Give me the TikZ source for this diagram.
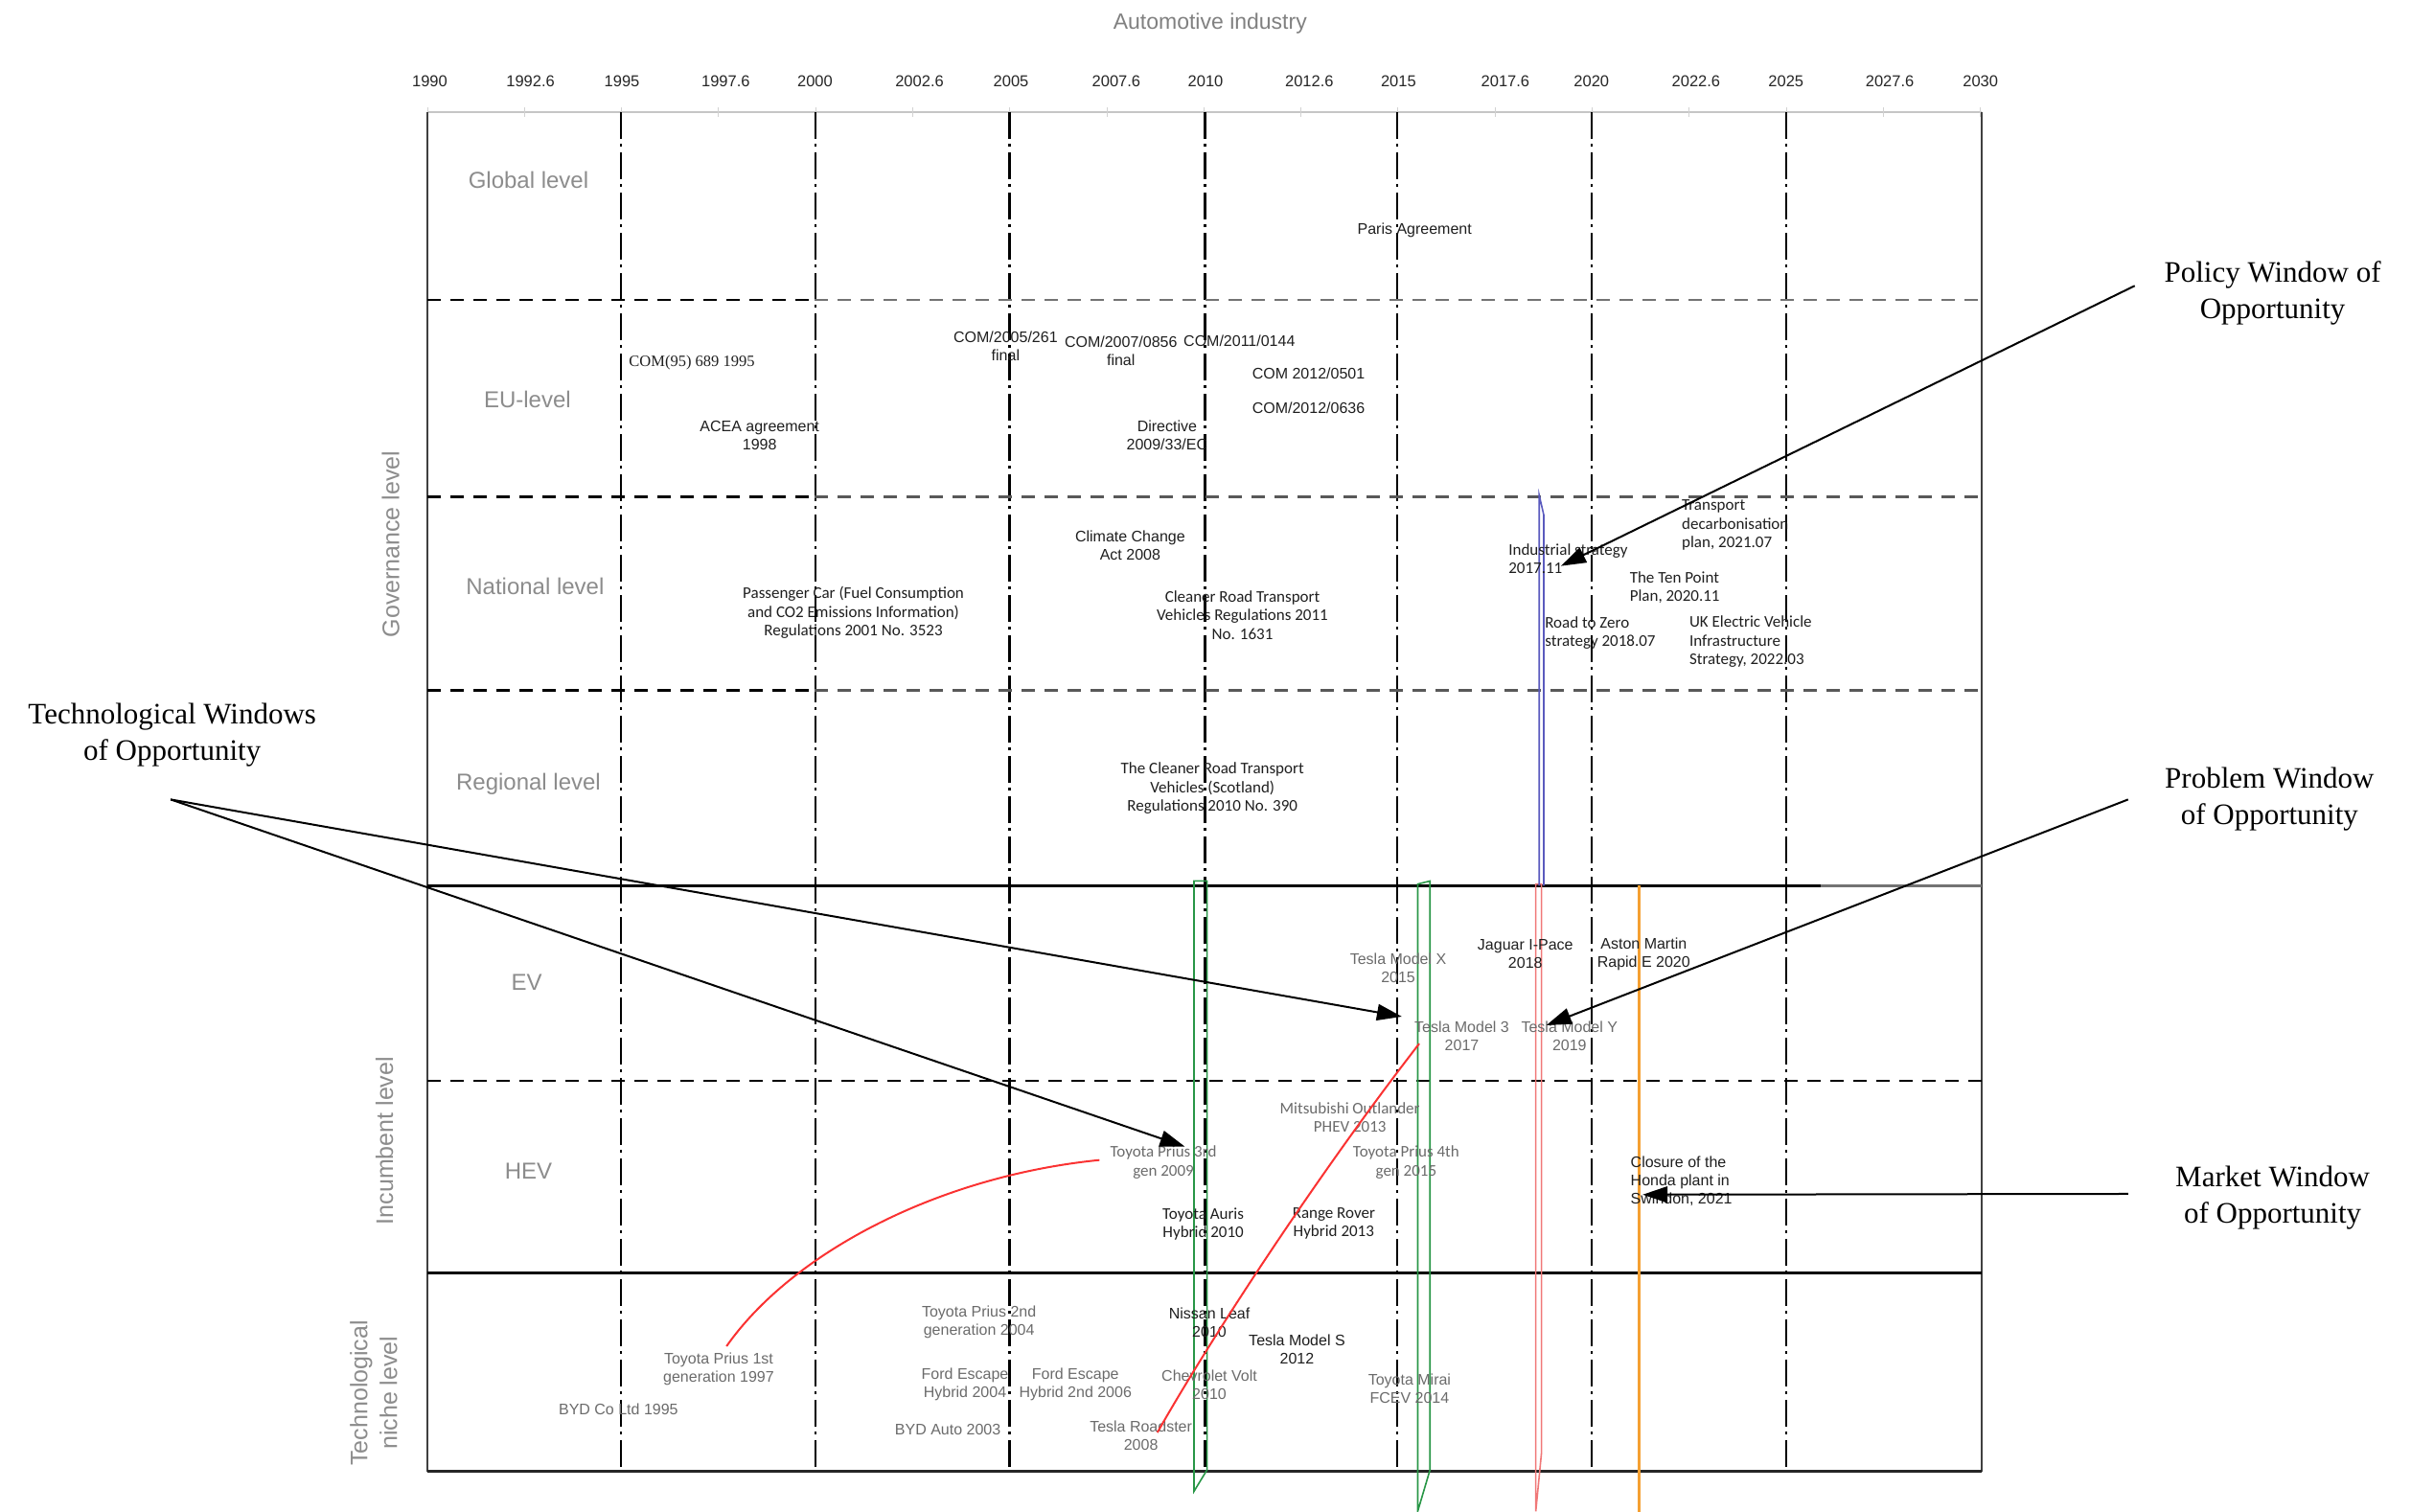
\documentclass[tikz,border=0pt]{standalone}
\usepackage{fontspec}
\setmainfont{Liberation Serif}
\newfontfamily\arialf{Liberation Sans}
\newfontfamily\calf{Carlito}
\newfontfamily\timesf{Liberation Serif}
\usetikzlibrary{arrows.meta}
\definecolor{wgreen}{RGB}{40,150,70}
\definecolor{wpink}{RGB}{240,120,120}
\definecolor{wblue}{RGB}{90,90,190}
\definecolor{worange}{RGB}{245,160,50}
\definecolor{cred}{RGB}{250,50,50}
\begin{document}
\begin{tikzpicture}[x=1.6046pt,y=-1.6046pt,
  evA/.style={font=\arialf\fontsize{16}{19}\selectfont, align=center, inner sep=0pt},
  evC/.style={font=\calf\fontsize{17}{19.5}\selectfont, align=center, inner sep=0pt},
  evT/.style={font=\timesf\fontsize{16.5}{19}\selectfont, inner sep=0pt},
  gtx/.style={text=black!58},
  dtx/.style={text=black!88},
  rowlab/.style={font=\arialf\fontsize{24}{28}\selectfont, text=black!45, inner sep=0pt},
  axlab/.style={font=\arialf\fontsize{25}{31}\selectfont, text=black!45, rotate=90, align=center, inner sep=0pt},
  ann/.style={font=\timesf\fontsize{31}{38}\selectfont, align=center, inner sep=0pt},
  yr/.style={font=\arialf\fontsize{16.5}{19}\selectfont, text=black!85, inner sep=0pt},
  vline/.style={line width=2.2pt, dash pattern=on 28pt off 5pt on 3pt off 6pt},
  hdash/.style={line width=2.5pt, dash pattern=on 14pt off 10pt},
  hthick/.style={line width=3pt},
  framel/.style={line width=1.8pt, black!75},
  arr/.style={line width=2pt, -{Triangle[length=26pt,width=17pt]}},
  win/.style={line width=1.6pt},
  redc/.style={line width=2pt, cred}
]
\useasboundingbox (0,0) rectangle (1568,983);

% ---------- title and year axis ----------
\node[font=\arialf\fontsize{23}{27}\selectfont, text=black!50, inner sep=0pt] (title) at (787,15) {Automotive industry};
\foreach \xx/\lab [count=\i] in {279.5/1990,345/1992.6,404.5/1995,472/1997.6,530/2000,598/2002.6,657.5/2005,726/2007.6,784/2010,851.5/2012.6,909.5/2015,979/2017.6,1035/2020,1103/2022.6,1161.5/2025,1229/2027.6,1288/2030}
  \node[yr] (yr\i) at (\xx,53) {\lab};
\draw[gray!45, line width=2pt] (278,73) -- (1289,73);
\foreach \k in {0,...,16}
  \draw[gray!35, line width=1pt] ({278+\k*63.125},70) -- ({278+\k*63.125},76);

% ---------- grid ----------
\foreach \xx in {404,530.5,656.5,783.7,908.5,1035,1161.5}
  \draw[vline] (\xx,73) -- (\xx,957);
\draw[framel] (278,73) -- (278,957);
\draw[framel] (1289,73) -- (1289,957);

\draw[hdash] (278,195) -- (530,195);
\draw[hdash, black!55] (530,195) -- (1289,195);
\draw[hdash] (278,323) -- (530,323);
\draw[hdash, black!65] (530,323) -- (1289,323);
\draw[hdash] (278,449) -- (530,449);
\draw[hdash, black!65] (530,449) -- (1289,449);
\draw[hthick] (278,576) -- (1184,576);
\draw[line width=2.5pt, black!55] (1184,576) -- (1289,576);
\draw[hdash] (278,703) -- (1289,703);
\draw[hthick] (278,828) -- (1289,828);
\draw[line width=2.5pt, black!85] (278,957) -- (1289,957);

% ---------- windows ----------
\draw[win, wgreen] (776.5,970) -- (776.5,573) -- (785,573) -- (785,956) -- cycle;
\draw[win, wgreen] (922,983) -- (922,575) -- (930,573) -- (930,956) -- cycle;
\draw[win, wpink] (998.8,983) -- (998.8,575) -- (1002.5,575) -- (1002.5,945) -- cycle;
\draw[win, wblue] (1001,576) -- (1001,322) -- (1004,335) -- (1004,576);
\draw[line width=3pt, worange] (1066,576) -- (1066,985);

% ---------- row labels ----------
\node[rowlab] (glob) at (343.7,117.4) {Global level};
\node[rowlab] (eu) at (343,259.7) {EU-level};
\node[rowlab] (nat) at (348,381.2) {National level};
\node[rowlab] (reg) at (343.7,510) {Regional level};
\node[rowlab] (ev) at (342.5,639.2) {EV};
\node[rowlab] (hev) at (343.7,761.4) {HEV};
\node[axlab] (gov) at (254,354) {Governance level};
\node[axlab] (inc) at (250,742) {Incumbent level};
\node[axlab] (niche) at (243,906) {Technological\\niche level};

% ---------- governance events ----------
\node[evA, dtx] (paris) at (920,150) {Paris Agreement};
\node[evT, dtx, anchor=west] (com95) at (409,236) {COM(95) 689 1995};
\node[evA, dtx] (acea) at (494,283) {ACEA agreement\\1998};
\node[evA, dtx] (com05) at (654,225) {COM/2005/261\\final};
\node[evA, dtx] (com07) at (729,228) {COM/2007/0856\\final};
\node[evA, dtx] (com11) at (806,222) {COM/2011/0144};
\node[evA, dtx] (com0501) at (851,243) {COM 2012/0501};
\node[evA, dtx] (com0636) at (851,265.5) {COM/2012/0636};
\node[evA, dtx] (directive) at (759,283) {Directive\\2009/33/EC};
\node[evA, dtx] (cca) at (735,355) {Climate Change\\Act 2008};
\node[evC, dtx] (pcar) at (555,398.4) {Passenger Car (Fuel Consumption\\and CO2 Emissions Information)\\Regulations 2001 No. 3523};
\node[evC, dtx] (crtv) at (808,400) {Cleaner Road Transport\\Vehicles Regulations 2011\\No. 1631};
\node[evC, dtx] (scot) at (788.5,512.8) {The Cleaner Road Transport\\Vehicles (Scotland)\\Regulations 2010 No. 390};
\node[evC, dtx, anchor=west, align=left] (indus) at (981,363.5) {Industrial strategy\\2017.11};
\node[evC, dtx, anchor=west, align=left] (tdp) at (1093.7,341.6) {Transport\\decarbonisation\\plan, 2021.07};
\node[evC, dtx, anchor=west, align=left] (tenp) at (1059.8,382) {The Ten Point\\Plan, 2020.11};
\node[evC, dtx, anchor=west, align=left] (rtz) at (1004.7,411.8) {Road to Zero\\strategy 2018.07};
\node[evC, dtx, anchor=west, align=left] (ukev) at (1098.6,417.5) {UK Electric Vehicle\\Infrastructure\\Strategy, 2022.03};

% ---------- incumbent events ----------
\node[evA, gtx] (tmx) at (909.3,629.7) {Tesla Model X\\2015};
\node[evA, dtx] (jag) at (992,620.4) {Jaguar I-Pace\\2018};
\node[evA, dtx] (aston) at (1069,620.4) {Aston Martin\\Rapid E 2020};
\node[evA, gtx] (tm3) at (950.7,673.8) {Tesla Model 3\\2017};
\node[evA, gtx] (tmy) at (1020.7,673.8) {Tesla Model Y\\2019};
\node[evC, gtx] (mitsu) at (877.9,726.9) {Mitsubishi Outlander\\PHEV 2013};
\node[evC, gtx] (prius3) at (756.6,756) {Toyota Prius 3rd\\gen 2009};
\node[evC, gtx] (prius4) at (914.5,755.9) {Toyota Prius 4th\\gen 2015};
\node[evA, dtx, anchor=west, align=left] (honda) at (1060.4,768.2) {Closure of the\\Honda plant in\\Swindon, 2021};
\node[evC, dtx] (auris) at (782.5,796) {Toyota Auris\\Hybrid 2010};
\node[evC, dtx] (rrover) at (867.4,795.8) {Range Rover\\Hybrid 2013};

% ---------- niche events ----------
\node[evA, gtx] (prius2) at (636.7,860) {Toyota Prius 2nd\\generation 2004};
\node[evA, dtx] (leaf) at (786.5,860) {Nissan Leaf\\2010};
\node[evA, dtx] (tms) at (843.5,877.4) {Tesla Model S\\2012};
\node[evA, gtx] (prius1) at (467.4,890.7) {Toyota Prius 1st\\generation 1997};
\node[evA, gtx] (ford1) at (627.6,900.2) {Ford Escape\\Hybrid 2004};
\node[evA, gtx] (ford2) at (699.4,900.2) {Ford Escape\\Hybrid 2nd 2006};
\node[evA, gtx] (volt) at (786.5,901) {Chevrolet Volt\\2010};
\node[evA, gtx] (mirai) at (916.7,903.5) {Toyota Mirai\\FCEV 2014};
\node[evA, gtx] (bydco) at (402.2,916.5) {BYD Co Ltd 1995};
\node[evA, gtx] (bydauto) at (616.4,929.6) {BYD Auto 2003};
\node[evA, gtx] (roadster) at (742,934) {Tesla Roadster\\2008};

% ---------- red trajectories ----------
\coordinate (rc1a) at (472.5,875.6);
\coordinate (rc1b) at (715,754.5);
\coordinate (rc2a) at (752.7,931.7);
\coordinate (rc2b) at (923,678.8);
\draw[redc] (rc1a) .. controls (515,815) and (610,765) .. (rc1b);
\draw[redc] (rc2a) .. controls (790,866) and (860,760) .. (rc2b);

% ---------- annotations ----------
\node[ann] (polw) at (1478,190.5) {Policy Window of\\Opportunity};
\node[ann] (techw) at (112,478) {Technological Windows\\of Opportunity};
\node[ann] (probw) at (1476,520) {Problem Window\\of Opportunity};
\node[ann] (markw) at (1478,779) {Market Window\\of Opportunity};

\coordinate (polS) at (1388.3,185.9);
\coordinate (polT) at (1015.2,368.1);
\coordinate (techS) at (111,520);
\coordinate (tm3T) at (911.7,661.2);
\coordinate (prius3T) at (770.6,745.8);
\coordinate (probS) at (1384,520);
\coordinate (probT) at (1005.7,666.8);
\coordinate (markS) at (1384,776.5);
\coordinate (markT) at (1068.3,777);

\draw[arr] (polS) -- (polT);
\draw[arr] (techS) -- (tm3T);
\draw[arr] (techS) -- (prius3T);
\draw[arr] (probS) -- (probT);
\draw[arr] (markS) -- (markT);
\end{tikzpicture}
\end{document}
